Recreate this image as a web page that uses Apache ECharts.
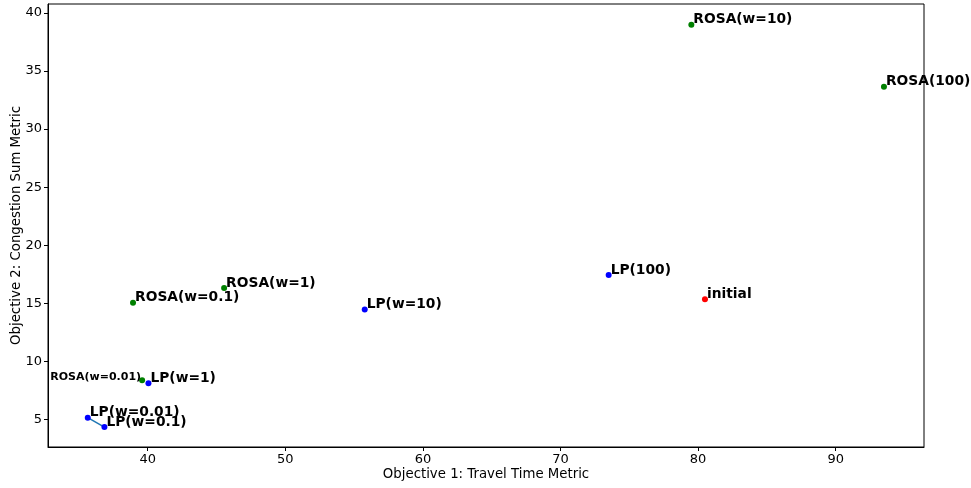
<!DOCTYPE html>
<html>
<head>
<meta charset="utf-8">
<script src="https://cdn.jsdelivr.net/npm/echarts@6/dist/echarts.min.js"></script>
<style>html,body{margin:0;padding:0;background:#fff;}#c{width:971px;height:488px;}</style>
</head>
<body>
<div id="c"></div>
<script>
// Data
const pointNames = ['ROSA(w=10)', 'ROSA(100)', 'LP(100)', 'initial', 'ROSA(w=1)', 'ROSA(w=0.1)', 'LP(w=10)', 'ROSA(w=0.01)', 'LP(w=1)', 'LP(w=0.01)', 'LP(w=0.1)'];
const travelTime = [79.51, 93.51, 73.50, 80.50, 45.55, 38.93, 55.77, 39.59, 40.05, 35.64, 36.85];
const congestion = [38.99, 33.64, 17.42, 15.35, 16.30, 15.03, 14.46, 8.36, 8.10, 5.14, 4.33];
const pointGroup = ['ROSA', 'ROSA', 'LP', 'initial', 'ROSA', 'ROSA', 'LP', 'ROSA', 'LP', 'LP', 'LP'];
const frontNames = ['LP(w=0.01)', 'LP(w=0.1)'];
const xTicks = [40, 50, 60, 70, 80, 90];
const yTicks = [5, 10, 15, 20, 25, 30, 35, 40];

const groupColor = { ROSA: '#008000', LP: '#0000ff', initial: '#ff0000' };
const FONT = 'DejaVu Sans';

const scatterData = pointNames.map((n, i) => {
  const item = { name: n, value: [travelTime[i], congestion[i]], itemStyle: { color: groupColor[pointGroup[i]], opacity: 1 } };
  if (n === 'ROSA(w=0.01)') {
    item.label = { position: [2, 5.5], align: 'right', fontSize: 11 };
  }
  return item;
});
const frontData = frontNames.map(n => {
  const i = pointNames.indexOf(n);
  return [travelTime[i], congestion[i]];
});

const axisCommon = {
  type: 'value',
  splitLine: { show: false },
  axisLine: { show: true, lineStyle: { color: '#000', width: 1 } },
  axisTick: { show: true, inside: false, length: 4, lineStyle: { color: '#000', width: 1 } },
  nameMoveOverlap: false,
  nameTextStyle: { fontFamily: FONT, fontSize: 13.3, color: '#000' }
};

const chart = echarts.init(document.getElementById('c'), null, { renderer: 'canvas' });
chart.setOption({
  backgroundColor: '#fff',
  animation: false,
  grid: { left: 48, right: 47, top: 4, bottom: 41, show: true, borderColor: '#000', borderWidth: 1, containLabel: false, outerBoundsMode: 'none' },
  xAxis: Object.assign({}, axisCommon, {
    min: 32.75, max: 96.42,
    name: 'Objective 1: Travel Time Metric', nameLocation: 'middle', nameGap: 21,
    axisTick: Object.assign({}, axisCommon.axisTick, { customValues: xTicks }),
    axisLabel: { customValues: xTicks, fontFamily: FONT, fontSize: 13, color: '#000', margin: 6 }
  }),
  yAxis: Object.assign({}, axisCommon, {
    min: 2.61, max: 40.78,
    name: 'Objective 2: Congestion Sum Metric', nameLocation: 'middle', nameGap: 25,
    axisTick: Object.assign({}, axisCommon.axisTick, { customValues: yTicks }),
    axisLabel: { customValues: yTicks, fontFamily: FONT, fontSize: 13, color: '#000', margin: 6 }
  }),
  series: [
    {
      type: 'line',
      data: frontData,
      symbol: 'none',
      lineStyle: { color: '#1f77b4', width: 1.5 },
      z: 1,
      silent: true
    },
    {
      type: 'scatter',
      data: scatterData,
      symbolSize: 6,
      z: 2,
      itemStyle: { opacity: 1 },
      label: {
        show: true,
        formatter: p => p.name,
        position: [5, 5],
        align: 'left',
        verticalAlign: 'bottom',
        fontFamily: FONT,
        fontWeight: 'bold',
        fontSize: 13.8,
        color: '#000',
        opacity: 1
      },
      labelLayout: { hideOverlap: false }
    }
  ]
});
</script>
</body>
</html>
